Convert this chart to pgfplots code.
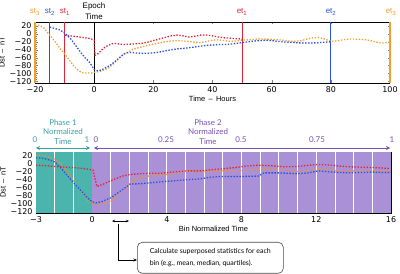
\documentclass[border=0pt]{standalone}
\usepackage{fontspec}
\setmainfont{Liberation Sans}
\newfontfamily\lato{Lato}
\newfontfamily\dejavu{DejaVu Sans}
\usepackage{pgfplots}
\pgfplotsset{compat=1.18}
\usetikzlibrary{arrows.meta}
\definecolor{cor}{RGB}{240,160,50}
\definecolor{cbl}{RGB}{40,80,225}
\definecolor{crd}{RGB}{225,35,55}
\definecolor{ctan}{RGB}{205,155,80}
\definecolor{cteal}{RGB}{75,180,172}
\definecolor{cpur}{RGB}{170,145,215}
\definecolor{ttel}{RGB}{55,160,165}
\definecolor{tpur}{RGB}{120,80,180}
\pgfplotsset{
  dots/.style={dash pattern=on 1.4pt off 1.6pt, line width=1.3pt},
  common/.style={scale only axis, width=355bp, height=61bp, anchor=south west,
    tick label style={font=\dejavu\fontsize{8}{8.5}\selectfont},
    label style={font=\fontsize{7.5}{8}\selectfont},
    ytick={-120,-100,-80,-60,-40,-20,0,20},
    yticklabels={−120,−100,−80,−60,−40,−20,0,20},
    ylabel={Dst \,–\, nT},
    ylabel style={yshift=-2bp},
    tick align=inside, major tick length=2.5bp, minor tick length=1.5bp,
    axis line style={black, line width=0.5pt},
  },
}
\begin{document}
\begin{tikzpicture}
\path[use as bounding box] (0,0) rectangle (400bp,274bp);
% ---------------- top panel
\begin{axis}[common, at={(35bp,191bp)},
  xmin=-20, xmax=100, ymin=-124, ymax=30,
  xtick={-20,0,20,40,60,80,100},
  xticklabels={−20,0,20,40,60,80,100},
  minor y tick num=3,
  separate axis lines,
  x axis line style={black, line width=0.5pt},
  y axis line style={cor, line width=1.6pt},
  y tick style={color=ctan!80!black},
  xlabel={Time \,–\, Hours}, xlabel style={yshift=3bp},
  ]
\addplot[cor, line width=1.6pt] coordinates {(-20,-124) (-20,30)};
\addplot[cor, line width=1.6pt] coordinates {(100,-124) (100,30)};
\addplot[cbl, line width=1pt] coordinates {(-15,-124) (-15,30)};
\addplot[crd, line width=1pt] coordinates {(-10,-124) (-10,30)};
\addplot[black, line width=1pt] coordinates {(0,-124) (0,30)};
\addplot[crd, line width=1pt] coordinates {(50,-124) (50,30)};
\addplot[cbl, line width=1pt] coordinates {(80,-124) (80,30)};
\addplot[cor, dots] coordinates {(-20,22) (-19,22) (-18,20) (-17,15) (-16,5) (-15,-3) (-14,-12) (-13,-22) (-12,-32) (-11,-42) (-10,-50) (-9,-60) (-8,-70) (-7,-80) (-6,-88) (-5,-94) (-4,-98) (-3,-99) (-2,-99) (-1,-99) (0,-97) (1,-96) (2,-95) (3,-92) (4,-89) (5,-85) (6,-79) (7,-72) (8,-64) (9,-57) (10,-51) (11,-47) (12,-44) (13,-40) (14,-37) (16,-33) (18,-29) (20,-26) (22,-23) (24,-20) (26,-18) (28,-17) (30,-18) (32,-19) (34,-21) (36,-22) (38,-19) (40,-16) (42,-15) (44,-17) (46,-19) (48,-18) (50,-16) (52,-15) (54,-14) (56,-13) (58,-13) (60,-14) (62,-15) (64,-16) (66,-18) (68,-19) (70,-17) (72,-13) (74,-10) (76,-9) (78,-13) (80,-19) (82,-18) (84,-15) (86,-13) (88,-13) (90,-14) (92,-15) (94,-18) (96,-22) (98,-23) (100,-21)};
\addplot[cbl, dots] coordinates {(-15,17) (-14,15) (-13,13) (-12,11) (-11,7) (-10,2) (-9,-5) (-8,-12) (-7,-22) (-6,-32) (-5,-42) (-4,-52) (-3,-61) (-2,-68) (-1,-78) (0,-90) (1,-93) (2,-92) (3,-89) (4,-85) (5,-81) (6,-76) (7,-70) (8,-64) (9,-57) (10,-51) (11,-48) (12,-47) (14,-48) (16,-49) (18,-49) (20,-48) (22,-46) (24,-43) (26,-40) (28,-38) (30,-37) (32,-35) (34,-33) (36,-31) (38,-29) (40,-28) (42,-27) (44,-27) (46,-26) (48,-24) (50,-22) (52,-20) (54,-18) (56,-17) (58,-16) (60,-17) (62,-19) (64,-20) (66,-21) (68,-22) (70,-23) (72,-23) (74,-23) (76,-22) (78,-21) (80,-20)};
\addplot[crd, dots] coordinates {(-10,-3) (-9,-4) (-8,-5) (-7,-6) (-6,-7) (-5,-8) (-4,-9) (-3,-10) (-2,-11) (-1,-13) (0,-16) (0.3,-54) (1,-52) (2,-45) (3,-37) (4,-32) (5,-28) (6,-25) (7,-24) (8,-25) (9,-26) (10,-27) (12,-26) (14,-25) (16,-24) (18,-21) (20,-17) (22,-13) (24,-9) (26,-5) (28,-3) (30,-5) (32,-8) (34,-6) (36,-3) (38,-3) (40,-5) (42,-8) (44,-10) (46,-11) (48,-12) (50,-13)};
\end{axis}
% ---------------- bottom panel
\begin{axis}[common, at={(36bp,61bp)},
  xmin=-3, xmax=16, ymin=-124, ymax=28,
  xtick={-3,0,4,8,12,16},
  xticklabels={−3,0,4,8,12,16},
  minor y tick num=3,
  y tick style={color=tpur!70!black},
  xlabel={Bin Normalized Time}, xlabel style={yshift=3bp},
  ]
\addplot[fill=cteal, draw=none] coordinates {(-3,-124) (0,-124) (0,28) (-3,28)} -- cycle;
\addplot[fill=cpur, draw=none] coordinates {(0,-124) (16,-124) (16,28) (0,28)} -- cycle;
\pgfplotsinvokeforeach{-2,-1,1,2,3,4,5,6,7,8,9,10,11,12,13,14,15}{
  \addplot[white, line width=0.8pt] coordinates {(#1,-124) (#1,28)};
}
\addplot[cor!90!red, dots] coordinates {(-3,20) (-2.6,19) (-2.2,14) (-2,10) (-1.7,0) (-1.5,-12) (-1.2,-30) (-1,-42) (-0.7,-62) (-0.4,-82) (-0.2,-95) (0,-101) (0.3,-103) (0.6,-101) (0.9,-96) (1.2,-88) (1.5,-76) (1.8,-62) (2.1,-48) (2.4,-38) (2.8,-33) (3.3,-31) (3.8,-29) (4.3,-26) (4.8,-21) (5.1,-18) (5.5,-20) (6,-21) (6.5,-20) (7,-19) (7.5,-18) (8,-18) (8.5,-17) (9,-15) (9.3,-13) (9.7,-14) (10.2,-17) (10.7,-20) (11.2,-21) (11.7,-17) (12.1,-13) (12.6,-15) (13.1,-19) (13.5,-21) (14,-19) (14.5,-17) (15,-18) (15.5,-20) (16,-21)};
\addplot[cbl, dots] coordinates {(-3,14) (-2.6,12) (-2.2,7) (-2,3) (-1.7,-10) (-1.35,-29) (-1,-48) (-0.63,-66) (-0.3,-84) (0,-96) (0.2,-99) (0.5,-96) (1,-86) (1.5,-70) (2.05,-52) (2.6,-51) (3.3,-48) (4,-45) (4.6,-43) (5.1,-41) (5.8,-39) (6.3,-35) (6.9,-33) (8,-33) (8.9,-32) (9.2,-24) (10,-24) (11,-26) (11.6,-24) (12.1,-19) (12.6,-21) (13.2,-23) (13.9,-24) (14.5,-23) (15,-22) (15.5,-23) (16,-23)};
\addplot[crd, dots] coordinates {(-3,-5) (-2.5,-6) (-2,-8) (-1.35,-10) (-0.63,-12) (-0.2,-15) (0.05,-17) (0.26,-58) (0.6,-52) (0.98,-44) (1.34,-37) (1.7,-31) (2.05,-28) (2.6,-26) (3.2,-25) (3.67,-25) (4.3,-22) (5.1,-19) (5.8,-19) (6.4,-16) (7,-14) (7.6,-11) (8.3,-7) (8.9,-5) (9.5,-6) (10.3,-9) (11,-8) (11.6,-5) (12.1,-3) (12.6,-4) (13.2,-7) (13.9,-9) (14.5,-10) (15.2,-11) (15.9,-13)};
\end{axis}
% ---------------- annotations (absolute, 1px = 1bp, y = 274 - py)
\begin{scope}[font=\fontsize{8}{8.5}\selectfont]
\node[cor] at (35bp,262bp) {st\textsubscript{3}};
\node[cbl] at (50bp,262bp) {st\textsubscript{2}};
\node[crd] at (65bp,262bp) {st\textsubscript{1}};
\node[crd] at (242bp,262bp) {et\textsubscript{1}};
\node[cbl] at (331bp,262bp) {et\textsubscript{2}};
\node[cor] at (391bp,262bp) {et\textsubscript{3}};
\node[align=center, font=\fontsize{8}{10.5}\selectfont] at (94bp,263bp) {Epoch\\Time};
\end{scope}
\begin{scope}[font=\lato\fontsize{8}{9.5}\selectfont]
\node[ttel, align=center] at (63bp,142bp) {Phase 1\\Normalized\\Time};
\node[tpur, align=center] at (208bp,142bp) {Phase 2\\Normalized\\Time};
\node[ttel] at (35bp,134bp) {0};
\node[ttel] at (87bp,134bp) {1};
\node[tpur] at (96bp,134bp) {0};
\node[tpur] at (166bp,134bp) {0.25};
\node[tpur] at (241bp,134bp) {0.5};
\node[tpur] at (317bp,134bp) {0.75};
\node[tpur] at (392bp,134bp) {1};
\draw[ttel, line width=0.9pt, {Stealth[length=4pt,width=4pt]}-{Stealth[length=4pt,width=4pt]}] (36bp,126bp) -- (90bp,126bp);
\draw[tpur, line width=0.9pt, {Stealth[length=4pt,width=4pt]}-{Stealth[length=4pt,width=4pt]}] (94bp,126bp) -- (390bp,126bp);
\end{scope}
\draw[black, line width=0.5pt, {Stealth[length=3pt,width=2.5pt]}-{Stealth[length=3pt,width=2.5pt]}] (112bp,53bp) -- (129bp,53bp);
\draw[black, line width=0.6pt, -{Stealth[length=3.5pt,width=3pt]}] (118bp,50bp) -- (118bp,14bp) -- (137bp,14bp);
\node[draw=black!70, line width=0.6pt, rounded corners=5pt, anchor=north west, minimum width=146bp, minimum height=31bp, align=left, inner sep=3bp, font=\lato\fontsize{7}{12}\selectfont] at (137bp,32bp) {Calculate superposed statistics for each\\bin (e.g., mean, median, quartiles).};
\end{tikzpicture}
\end{document}
